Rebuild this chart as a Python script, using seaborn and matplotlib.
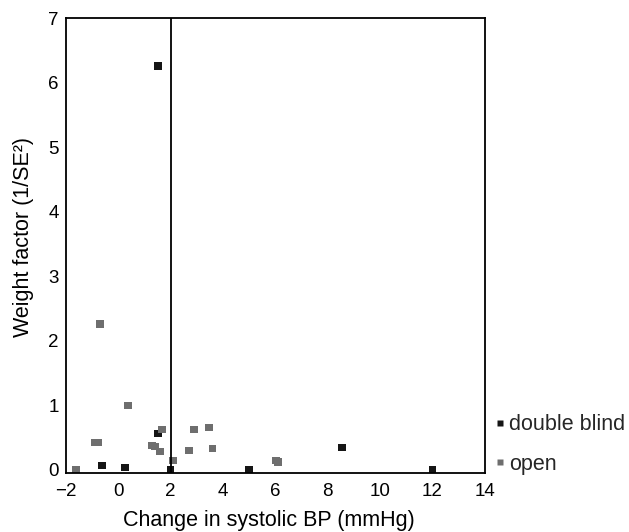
import matplotlib
matplotlib.use("Agg")
import matplotlib.pyplot as plt
import seaborn as sns
import pandas as pd

# Data
db_x = [1.52, 1.51, -0.63, 0.26, 2.0, 5.0, 8.53, 12.0]
db_y = [6.26, 0.56, 0.07, 0.03, 0.0, 0.0, 0.35, 0.0]
open_x = [-0.69, 0.39, 1.66, -0.88, -0.76, 1.30, 1.40, 1.60, 2.08, -1.62, 2.90, 3.47, 2.69, 3.60, 6.02, 6.10]
open_y = [2.26, 1.00, 0.63, 0.42, 0.42, 0.37, 0.36, 0.28, 0.15, 0.00, 0.63, 0.66, 0.30, 0.33, 0.14, 0.12]
ref_line_x = 2.0
x_ticks = [-2, 0, 2, 4, 6, 8, 10, 12, 14]
y_ticks = [0, 1, 2, 3, 4, 5, 6, 7]

df = pd.DataFrame({
    "x": db_x + open_x,
    "y": db_y + open_y,
    "group": ["double blind"] * len(db_x) + ["open"] * len(open_x),
})

sns.set_theme(style="white")
plt.rcParams["font.family"] = ["Liberation Sans", "DejaVu Sans"]

fig = plt.figure(figsize=(6.29, 5.32), dpi=100)
ax = fig.add_axes([0.1045, 0.111, 0.6665, 0.8546])

rect = [(-1, -0.9), (1, -0.9), (1, 0.9), (-1, 0.9), (-1, -0.9)]
sns.scatterplot(data=df, x="x", y="y", hue="group", hue_order=["double blind", "open"],
                palette={"double blind": "#151515", "open": "#6e6e6e"},
                marker=rect, s=32, edgecolor="none", ax=ax, legend=True)

ax.axvline(ref_line_x, color="black", lw=1.3)
ax.set_xlim(-2, 14)
ax.set_ylim(-0.05, 7)
ax.set_xticks(x_ticks)
ax.set_xticklabels(["\u22122" if t < 0 else str(t) for t in x_ticks])
ax.set_yticks(y_ticks)
ax.tick_params(axis="both", length=0, labelsize=13.5, colors="black")
ax.tick_params(axis="x", pad=7)
ax.tick_params(axis="y", pad=5)
ax.set_xlabel("Change in systolic BP (mmHg)", fontsize=15.5, color="black")
ax.set_ylabel("Weight factor (1/SE\u00b2)", fontsize=15.5, color="black")
ax.xaxis.set_label_coords(0.485, -0.081)
ax.yaxis.set_label_coords(-0.0768, 0.5187)
for sp in ax.spines.values():
    sp.set_color("black")
    sp.set_linewidth(1.3)

handles, labels = ax.get_legend_handles_labels()
ax.legend(handles, labels, loc="upper left", bbox_to_anchor=(0.787, 0.2209),
          bbox_transform=fig.transFigure,
          frameon=False, fontsize=15.5, markerscale=0.85, handletextpad=0.15,
          labelspacing=0.84, borderaxespad=0, borderpad=0, handlelength=0.5)

fig.savefig("out.png", dpi=100)
